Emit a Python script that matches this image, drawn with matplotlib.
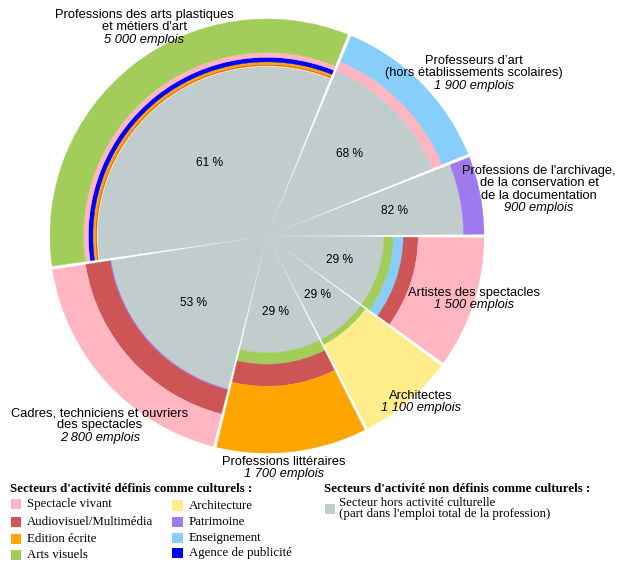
import numpy as np
import matplotlib
matplotlib.use("Agg")
import matplotlib.pyplot as plt
from matplotlib.patches import Wedge, Rectangle

# professions, counter-clockwise from 3 o'clock
professions = ["Professions de l'archivage,\nde la conservation et\nde la documentation",
               "Professeurs d\u2019art\n(hors établissements scolaires)",
               "Professions des arts plastiques\net métiers d'art",
               "Cadres, techniciens et ouvriers\ndes spectacles",
               "Professions littéraires",
               "Architectes",
               "Artistes des spectacles"]
emplois = [900, 1900, 5000, 2800, 1700, 1100, 1500]
emplois_txt = ["900 emplois", "1 900 emplois", "5 000 emplois", "2 800 emplois",
               "1 700 emplois", "1 100 emplois", "1 500 emplois"]
hors_culture = [82, 68, 61, 53, 29, 29, 29]

# share of each cultural sector in each profession (%)
spectacle_vivant = [0, 8, 3.7, 28.3, 0, 0, 51.5]
audiovisuel = [0, 0, 0.8, 18, 13, 0, 9]
edition = [0, 0, 1.9, 0, 52, 0, 0]
arts_visuels = [0, 0, 28.5, 0, 6, 3, 5]
architecture = [0, 0, 0.7, 0, 0, 68, 0]
patrimoine = [18, 0, 0, 0.7, 0, 0, 0]
enseignement = [0, 24, 0, 0, 0, 0, 5.5]
publicite = [0, 0, 3.4, 0, 0, 0, 0]

secteurs = ["Spectacle vivant", "Audiovisuel/Multimédia", "Edition écrite", "Arts visuels",
            "Architecture", "Patrimoine", "Enseignement", "Agence de publicité"]
parts = [spectacle_vivant, audiovisuel, edition, arts_visuels,
         architecture, patrimoine, enseignement, publicite]
couleurs = ["#FFB6C1", "#CD5555", "#FFA500", "#A2CD5A",
            "#FFEC8B", "#9F79EE", "#87CEFA", "#0000FF"]
gris = "#C1CDCD"

W, H = 626, 571
CX, CY, R = 267, 236, 217   # pixel centre / radius of the circle


def px(x, y):
    return (x - CX) / R, (CY - y) / R


fig = plt.figure(figsize=(W / 100, H / 100), dpi=100)
ax = fig.add_axes([0, 0, 1, 1])
x0, y0 = px(0, H)
x1, y1 = px(W, 0)
ax.set_xlim(x0, x1)
ax.set_ylim(y0, y1)
ax.axis("off")

total = sum(emplois)
bornes = np.concatenate([[0], np.cumsum(emplois)]) / total * 360
gap = 0.5
sans = "Liberation Sans"
serif = "Liberation Serif"
fs = 9.3

for i in range(len(professions)):
    t1, t2 = bornes[i] + gap, bornes[i + 1] - gap
    cum = hors_culture[i] / 100
    ax.add_patch(Wedge((0, 0), np.sqrt(cum), t1, t2, facecolor=gris, edgecolor=gris, lw=0.3))
    morceaux = sorted([(parts[k][i], k) for k in range(len(secteurs)) if parts[k][i] > 0],
                      key=lambda s: s[0])
    for val, k in morceaux:
        r_in = np.sqrt(cum)
        cum = min(cum + val / 100, 1.0)
        r_out = np.sqrt(cum)
        ax.add_patch(Wedge((0, 0), r_out, t1, t2, width=r_out - r_in,
                           facecolor=couleurs[k], edgecolor=couleurs[k], lw=0.3))
    # percentage at the centroid of the grey sector
    a = np.deg2rad(bornes[i + 1] - bornes[i])
    rg = np.sqrt(hors_culture[i] / 100)
    rc = 4 * rg * np.sin(a / 2) / (3 * a)
    m = np.deg2rad((bornes[i] + bornes[i + 1]) / 2)
    ax.text(rc * np.cos(m), rc * np.sin(m), "%d %%" % hors_culture[i], ha="center", va="center",
            fontsize=8.6, family=sans)

# outer labels: centre x and first-line y, in pixels
label_pos = [(539, 171), (474, 61), (144, 15), (100, 413), (284, 462), (421, 396), (474, 293)]
for i, (lx, ly) in enumerate(label_pos):
    lignes = professions[i].split("\n")
    for j, l in enumerate(lignes):
        ax.text(*px(lx, ly + j * 12.4), l, ha="center", va="center", fontsize=fs, family=sans)
    ax.text(*px(lx, ly + len(lignes) * 12.4), emplois_txt[i], ha="center", va="center",
            fontsize=fs, family=sans, style="italic")

# legend
ax.text(*px(10, 489), "Secteurs d'activité définis comme culturels :", ha="left", va="center",
        fontsize=fs, family=serif, weight="bold")
ax.text(*px(324, 489), "Secteurs d'activité non définis comme culturels :", ha="left", va="center",
        fontsize=fs, family=serif, weight="bold")
rows1 = [504, 522, 539, 555]
rows2 = [506, 522, 538, 553]
for k in range(len(secteurs)):
    if k < 4:
        sx, tx, yy = 11, 27, rows1[k]
    else:
        sx, tx, yy = 172, 189, rows2[k - 4]
    bx, by = px(sx, yy + 5)
    ax.add_patch(Rectangle((bx, by), 10.5 / R, 10.5 / R, facecolor=couleurs[k], edgecolor="none"))
    ax.text(*px(tx, yy), secteurs[k], ha="left", va="center", fontsize=fs, family=serif)
bx, by = px(325, 514)
ax.add_patch(Rectangle((bx, by), 10 / R, 10 / R, facecolor=gris, edgecolor="none"))
ax.text(*px(339, 503), "Secteur hors activité culturelle", ha="left", va="center", fontsize=fs, family=serif)
ax.text(*px(339, 514), "(part dans l'emploi total de la profession)", ha="left", va="center",
        fontsize=fs, family=serif)

fig.savefig("out.png", dpi=100)
